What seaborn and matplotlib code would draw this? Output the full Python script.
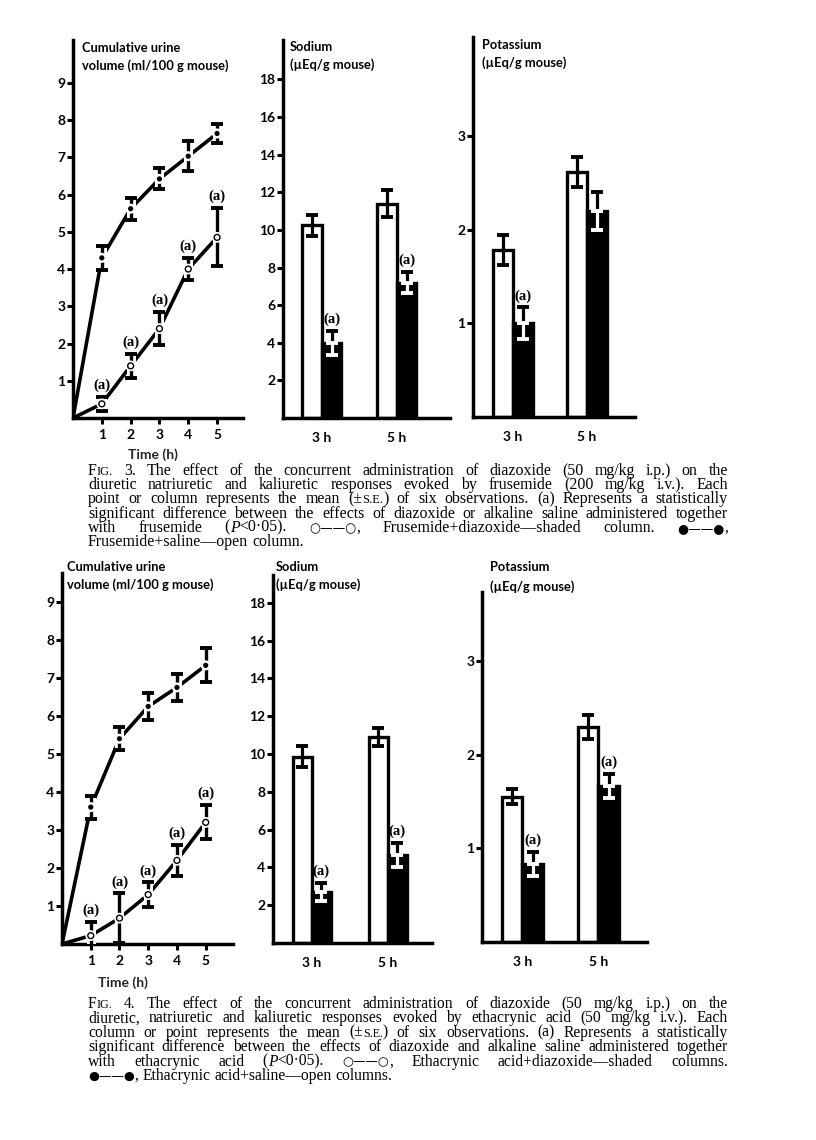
import matplotlib
matplotlib.use("Agg")
import matplotlib.pyplot as plt
import matplotlib.patheffects as pe
import seaborn as sns
import pandas as pd

# ---------------- data ----------------
hours = [0, 1, 2, 3, 4, 5]
times = ["3 h", "5 h"]

# Fig. 3 - frusemide
f3_vol_saline = [0, 4.3, 5.62, 6.42, 7.03, 7.64]
f3_vol_saline_se = [0, 0.33, 0.3, 0.28, 0.4, 0.26]
f3_vol_diaz = [0, 0.38, 1.4, 2.4, 4.0, 4.85]
f3_vol_diaz_se = [0, 0.18, 0.33, 0.45, 0.29, 0.78]
f3_vol_sig = [0, 1, 1, 1, 1, 1]

f3_na_saline = [10.25, 11.4]
f3_na_saline_se = [0.55, 0.7]
f3_na_diaz = [4.0, 7.2]
f3_na_diaz_se = [0.65, 0.55]
f3_na_sig = [1, 1]

f3_k_saline = [1.78, 2.62]
f3_k_saline_se = [0.16, 0.16]
f3_k_diaz = [1.0, 2.2]
f3_k_diaz_se = [0.17, 0.2]
f3_k_sig = [1, 0]

# Fig. 4 - ethacrynic acid
f4_vol_saline = [0, 3.6, 5.4, 6.25, 6.75, 7.33]
f4_vol_saline_se = [0, 0.3, 0.3, 0.35, 0.35, 0.45]
f4_vol_diaz = [0, 0.22, 0.68, 1.3, 2.2, 3.2]
f4_vol_diaz_se = [0, 0.35, 0.65, 0.32, 0.4, 0.45]
f4_vol_sig = [0, 1, 1, 1, 1, 1]

f4_na_saline = [9.85, 10.9]
f4_na_saline_se = [0.55, 0.5]
f4_na_diaz = [2.7, 4.65]
f4_na_diaz_se = [0.5, 0.65]
f4_na_sig = [1, 1]

f4_k_saline = [1.55, 2.3]
f4_k_saline_se = [0.08, 0.13]
f4_k_diaz = [0.83, 1.67]
f4_k_diaz_se = [0.13, 0.13]
f4_k_sig = [1, 1]

# caption markup: words split by spaces, "|" splits a word into pieces,
# "i:" italic piece, "s:" small-caps piece, "g:" symbol piece
cap3 = [
    "F|s:IG. 3. The effect of the concurrent administration of diazoxide (50 mg/kg i.p.) on the",
    "diuretic natriuretic and kaliuretic responses evoked by frusemide (200 mg/kg i.v.). Each",
    "point or column represents the mean (±|s:S.E.|) of six observations. (a) Represents a statistically",
    "significant difference between the effects of diazoxide or alkaline saline administered together",
    "with frusemide (|i:P|<0·05). g:○——○|, Frusemide+diazoxide—shaded column. g:●——●|,",
    "Frusemide+saline—open column.",
]
cap4 = [
    "F|s:IG. 4. The effect of the concurrent administration of diazoxide (50 mg/kg i.p.) on the",
    "diuretic, natriuretic and kaliuretic responses evoked by ethacrynic acid (50 mg/kg i.v.). Each",
    "column or point represents the mean (±|s:S.E.|) of six observations. (a) Represents a statistically",
    "significant difference between the effects of diazoxide and alkaline saline administered together",
    "with ethacrynic acid (|i:P|<0·05). g:○——○|, Ethacrynic acid+diazoxide—shaded columns.",
    "g:●——●|, Ethacrynic acid+saline—open columns.",
]

# ---------------- setup ----------------
sns.set_theme(style="ticks")
plt.rcParams["font.family"] = ["Lato", "DejaVu Sans"]
SERIF = ["Liberation Serif", "DejaVu Serif"]
W, H = 816, 1140
fig = plt.figure(figsize=(W / 100, H / 100), dpi=100)
fig.patch.set_facecolor("white")


def make_ax(x0, x1, ybot, ytop):
    ax = fig.add_axes([x0 / W, 1 - ybot / H, (x1 - x0) / W, (ybot - ytop) / H])
    ax.set_facecolor("white")
    sns.despine(ax=ax)
    for s in ["left", "bottom"]:
        ax.spines[s].set_linewidth(2.5)
        ax.spines[s].set_color("black")
    ax.tick_params(axis="y", left=True, direction="out", length=4, width=2.2,
                   pad=1.5, labelsize=10, colors="black")
    return ax


def bold_ticks(ax):
    for t in ax.get_xticklabels() + ax.get_yticklabels():
        t.set_fontweight("bold")


def mark_a(ax, x, y):
    ax.annotate("(a)", (x, y), xytext=(0, 3.5), textcoords="offset points",
                ha="center", va="bottom", family=SERIF, fontsize=10.5,
                fontweight="bold", color="black")


def time_panel(ax, sal, sal_se, dia, dia_se, sig, ymax, xmax):
    for vals in (sal, dia):
        sns.lineplot(x=hours, y=vals, color="black", linewidth=2.6, ax=ax, zorder=2)
    halo = [pe.withStroke(linewidth=6.5, foreground="white")]
    for vals, se in ((sal, sal_se), (dia, dia_se)):
        eb = ax.errorbar(hours[1:], vals[1:], yerr=se[1:], fmt="none", ecolor="black",
                         elinewidth=2.4, capsize=4.2, capthick=2.8, zorder=3)
        for c in eb.lines[2]:
            c.set_path_effects(halo)
    ring = [pe.withStroke(linewidth=3.5, foreground="white")]
    sns.scatterplot(x=hours[1:], y=sal[1:], color="black", s=14, linewidth=0, ax=ax, zorder=4)
    ax.collections[-1].set_path_effects(ring)
    sns.scatterplot(x=hours[1:], y=dia[1:], color="white", edgecolor="black", s=18,
                    linewidth=1.0, ax=ax, zorder=4)
    ax.collections[-1].set_path_effects(ring)
    for h, v, s, g in zip(hours, dia, dia_se, sig):
        if g:
            mark_a(ax, h, v + s)
    ax.set_xlim(0, xmax)
    ax.set_ylim(0, ymax)
    ax.set_xticks(hours[1:])
    ax.set_yticks(range(1, 10))
    ax.tick_params(axis="x", bottom=True, direction="out", length=4, width=2.2,
                   pad=4, labelsize=10, colors="black")
    ax.set_xlabel("")
    ax.set_ylabel("")
    bold_ticks(ax)


def bar_panel(ax, sal, sal_se, dia, dia_se, sig, width, xlim, ymax, yticks):
    df = pd.DataFrame({"time": times * 2, "value": sal + dia,
                       "group": ["saline"] * 2 + ["diazoxide"] * 2})
    sns.barplot(data=df, x="time", y="value", hue="group",
                hue_order=["saline", "diazoxide"],
                palette={"saline": "white", "diazoxide": "black"}, saturation=1,
                edgecolor="black", linewidth=2.4, width=width, errorbar=None,
                legend=False, ax=ax)
    for bar, se in zip(ax.containers[0], sal_se):
        cx = bar.get_x() + bar.get_width() / 2
        ax.errorbar(cx, bar.get_height(), yerr=se, fmt="none", ecolor="black",
                    elinewidth=2.3, capsize=4.2, capthick=2.8, zorder=3)
    for bar, se, g in zip(ax.containers[1], dia_se, sig):
        cx = bar.get_x() + bar.get_width() / 2
        top = bar.get_height()
        ax.errorbar(cx, top, yerr=[[0], [se]], fmt="none", ecolor="black",
                    elinewidth=2.3, capsize=4.2, capthick=2.8, zorder=3)
        ax.errorbar(cx, top, yerr=[[se], [0]], fmt="none", ecolor="white",
                    elinewidth=2.3, capsize=4.2, capthick=2.8, zorder=3)
        if g:
            mark_a(ax, cx, top + se)
    ax.set_xlim(*xlim)
    ax.set_ylim(0, ymax)
    ax.set_yticks(yticks)
    ax.tick_params(axis="x", bottom=False, length=0, pad=10, labelsize=10, colors="black")
    ax.set_xlabel("")
    ax.set_ylabel("")
    bold_ticks(ax)


def title(x, y1, y2, l1, l2):
    fig.text(x / W, 1 - y1 / H, l1, ha="left", va="center", fontsize=9.3,
             fontweight="bold", color="black")
    fig.text(x / W, 1 - y2 / H, l2, ha="left", va="center", fontsize=9.3,
             fontweight="bold", color="black")


def build_line(line, y, size):
    items = []
    for word in line.split():
        parts = []
        for p in word.split("|"):
            if not p:
                continue
            kw = dict(fontsize=size, family=SERIF, color="black")
            if p.startswith("i:"):
                p = p[2:]
                kw["style"] = "italic"
            elif p.startswith("s:"):
                p = p[2:]
                kw["fontsize"] = size * 0.78
            elif p.startswith("g:"):
                p = p[2:]
                kw["family"] = ["DejaVu Sans"]
                kw["fontsize"] = size * 0.8
            parts.append(fig.text(0, y, p, ha="left", va="baseline", **kw))
        items.append(parts)
    return items


def caption(lines, x0, x1, base0, step, size):
    r = fig.canvas.get_renderer()
    # size the font from the widest line, then justify every line but the last
    widest = 0
    for line in lines[:-1]:
        items = build_line(line, 0, size)
        tot = sum(t.get_window_extent(r).width for parts in items for t in parts)
        widest = max(widest, tot + size * 100 / 72 * 0.25 * (len(items) - 1))
        for parts in items:
            for t in parts:
                t.remove()
    size = size * (x1 - x0) / widest * 0.93
    nat = size * 100 / 72 * 0.25
    for i, line in enumerate(lines):
        y = 1 - (base0 + i * step) / H
        items = build_line(line, y, size)
        widths = [[t.get_window_extent(r).width for t in parts] for parts in items]
        total = sum(sum(w) for w in widths)
        if i == len(lines) - 1:
            gap = nat
        else:
            gap = max((x1 - x0 - total) / (len(items) - 1), 1.5)
        x = x0
        for parts, ws in zip(items, widths):
            for t, w in zip(parts, ws):
                t.set_x(x / W)
                x += w
            x += gap


# ---------------- Fig. 3 ----------------
ax = make_ax(73, 243, 418, 40)
time_panel(ax, f3_vol_saline, f3_vol_saline_se, f3_vol_diaz, f3_vol_diaz_se,
           f3_vol_sig, ymax=10.15, xmax=5.9)
title(82, 48, 66, "Cumulative urine", "volume (ml/100 g mouse)")
fig.text(153 / W, 1 - 455 / H, "Time (h)", ha="center", va="center",
         fontsize=10, fontweight="bold")

ax = make_ax(283, 450, 418, 40)
bar_panel(ax, f3_na_saline, f3_na_saline_se, f3_na_diaz, f3_na_diaz_se, f3_na_sig,
          width=0.52, xlim=(-0.52, 1.71), ymax=20.1, yticks=range(2, 19, 2))
title(290, 47, 65, "Sodium", "(µEq/g mouse)")

ax = make_ax(473, 635, 417, 37)
bar_panel(ax, f3_k_saline, f3_k_saline_se, f3_k_diaz, f3_k_diaz_se, f3_k_sig,
          width=0.53, xlim=(-0.54, 1.65), ymax=4.06, yticks=[1, 2, 3])
title(482, 45, 63, "Potassium", "(µEq/g mouse)")

caption(cap3, 88, 728, 475, 14.2, 10.5)

# ---------------- Fig. 4 ----------------
ax = make_ax(62, 233, 944, 573)
time_panel(ax, f4_vol_saline, f4_vol_saline_se, f4_vol_diaz, f4_vol_diaz_se,
           f4_vol_sig, ymax=9.76, xmax=5.95)
title(67, 567, 585, "Cumulative urine", "volume (ml/100 g mouse)")
fig.text(123 / W, 1 - 983 / H, "Time (h)", ha="center", va="center",
         fontsize=10, fontweight="bold")

ax = make_ax(273, 432, 943, 575)
bar_panel(ax, f4_na_saline, f4_na_saline_se, f4_na_diaz, f4_na_diaz_se, f4_na_sig,
          width=0.5, xlim=(-0.51, 1.58), ymax=19.47, yticks=range(2, 19, 2))
title(276, 567, 585, "Sodium", "(µEq/g mouse)")

ax = make_ax(482, 647, 942, 592)
bar_panel(ax, f4_k_saline, f4_k_saline_se, f4_k_diaz, f4_k_diaz_se, f4_k_sig,
          width=0.54, xlim=(-0.53, 1.64), ymax=3.74, yticks=[1, 2, 3])
title(490, 567, 587, "Potassium", "(µEq/g mouse)")

caption(cap4, 88, 728, 1008, 14.4, 10.5)

fig.savefig("out.png", dpi=100)
